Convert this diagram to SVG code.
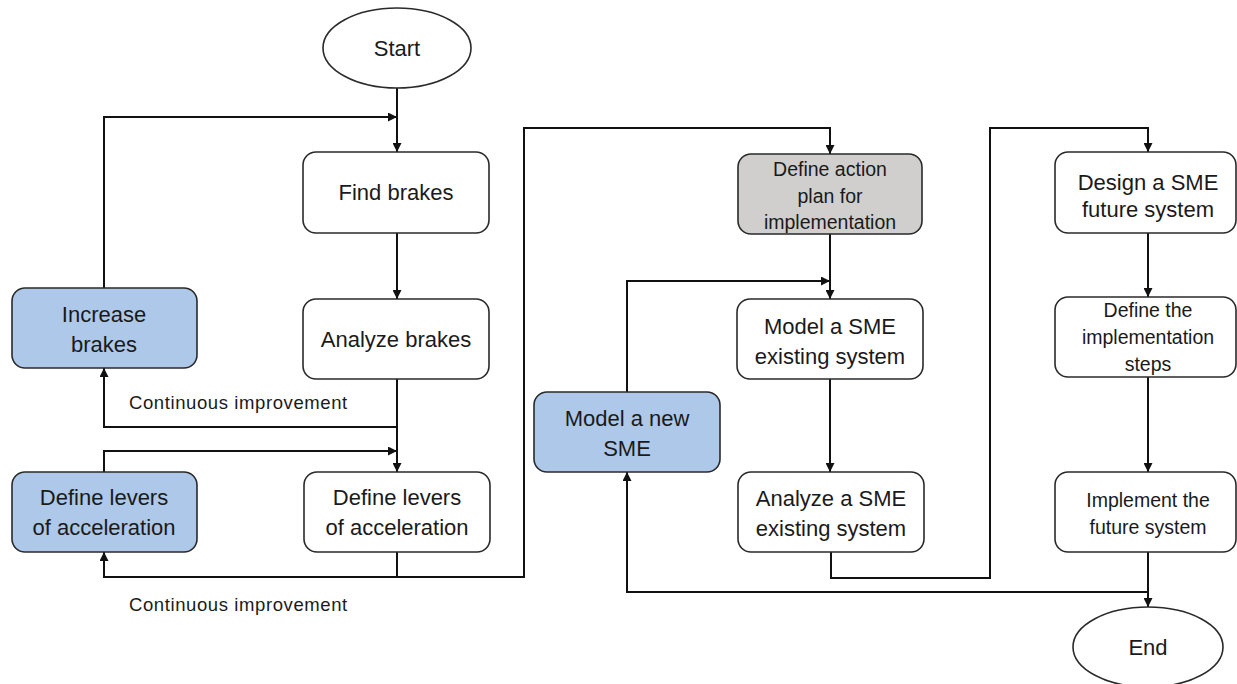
<svg xmlns="http://www.w3.org/2000/svg" width="1237" height="684" viewBox="0 0 1237 684">
<defs>
<style>
.box{fill:#ffffff;stroke:#2a2a2a;stroke-width:1.6}
.blue{fill:#adc8e8}
.gray{fill:#d0cfcd}
.t{font-family:"Liberation Sans",Arial,sans-serif;font-size:22px;fill:#1a1a1a;text-anchor:middle}
.s{font-size:19.5px}
.lbl{font-family:"Liberation Sans",Arial,sans-serif;font-size:18.5px;letter-spacing:0.6px;fill:#1a1a1a}
.c{fill:none;stroke:#111;stroke-width:2}
</style>
<marker id="ar" viewBox="0 0 10 10" refX="10" refY="5" markerWidth="9" markerHeight="9" markerUnits="userSpaceOnUse" orient="auto">
<path d="M0,0 L10,5 L0,10 z" fill="#111"/>
</marker>
</defs>
<rect width="1237" height="684" fill="#ffffff"/>
<g id="connectors">
<path class="c" d="M397,88 V152" marker-end="url(#ar)"/>
<path class="c" d="M104,288 V117 H397" marker-end="url(#ar)"/>
<path class="c" d="M397,233 V299" marker-end="url(#ar)"/>
<path class="c" d="M397,379 V472" marker-end="url(#ar)"/>
<path class="c" d="M397,427 H104 V368" marker-end="url(#ar)"/>
<path class="c" d="M104,472 V451 H397" marker-end="url(#ar)"/>
<path class="c" d="M397,552 V577 H104 V552" marker-end="url(#ar)"/>
<path class="c" d="M397,577 H524 V128 H830 V154" marker-end="url(#ar)"/>
<path class="c" d="M830,234 V299" marker-end="url(#ar)"/>
<path class="c" d="M627,392 V281 H830" marker-end="url(#ar)"/>
<path class="c" d="M830,379 V472" marker-end="url(#ar)"/>
<path class="c" d="M831,552 V578 H990 V128 H1148 V152" marker-end="url(#ar)"/>
<path class="c" d="M1148,233 V297" marker-end="url(#ar)"/>
<path class="c" d="M1148,377 V472" marker-end="url(#ar)"/>
<path class="c" d="M1148,552 V607" marker-end="url(#ar)"/>
<path class="c" d="M1148,592 H627 V472" marker-end="url(#ar)"/>
<text class="lbl" x="129" y="409">Continuous improvement</text>
<text class="lbl" x="129" y="611">Continuous improvement</text>
</g>
<g id="start">
<ellipse class="box" cx="397" cy="48" rx="74" ry="40"/>
<text class="t" x="397" y="56">Start</text>
</g>
<g id="find-brakes">
<rect class="box" x="303" y="152" width="186" height="81" rx="13"/>
<text class="t" x="396" y="200">Find brakes</text>
</g>
<g id="analyze-brakes">
<rect class="box" x="303" y="299" width="186" height="80" rx="13"/>
<text class="t" x="396" y="347">Analyze brakes</text>
</g>
<g id="increase-brakes">
<rect class="box blue" x="12" y="288" width="185" height="80" rx="13"/>
<text class="t" x="104" y="322">Increase</text>
<text class="t" x="104" y="352">brakes</text>
</g>
<g id="define-levers-blue">
<rect class="box blue" x="12" y="472" width="185" height="80" rx="13"/>
<text class="t" x="104" y="505">Define levers</text>
<text class="t" x="104" y="535">of acceleration</text>
</g>
<g id="define-levers">
<rect class="box" x="304" y="472" width="186" height="80" rx="13"/>
<text class="t" x="397" y="505">Define levers</text>
<text class="t" x="397" y="535">of acceleration</text>
</g>
<g id="action-plan">
<rect class="box gray" x="738" y="154" width="184" height="80" rx="13"/>
<text class="t s" x="830" y="176">Define action</text>
<text class="t s" x="830" y="203">plan for</text>
<text class="t s" x="830" y="229">implementation</text>
</g>
<g id="model-existing">
<rect class="box" x="737" y="299" width="186" height="80" rx="13"/>
<text class="t" x="830" y="334">Model a SME</text>
<text class="t" x="830" y="364">existing system</text>
</g>
<g id="model-new">
<rect class="box blue" x="534" y="392" width="186" height="80" rx="13"/>
<text class="t" x="627" y="426">Model a new</text>
<text class="t" x="627" y="456">SME</text>
</g>
<g id="analyze-sme">
<rect class="box" x="738" y="472" width="186" height="80" rx="13"/>
<text class="t" x="831" y="506">Analyze a SME</text>
<text class="t" x="831" y="536">existing system</text>
</g>
<g id="design-future">
<rect class="box" x="1055" y="152" width="181" height="81" rx="13"/>
<text class="t" x="1148" y="190">Design a SME</text>
<text class="t" x="1148" y="217">future system</text>
</g>
<g id="define-steps">
<rect class="box" x="1055" y="297" width="181" height="80" rx="13"/>
<text class="t s" x="1148" y="317">Define the</text>
<text class="t s" x="1148" y="344">implementation</text>
<text class="t s" x="1148" y="371">steps</text>
</g>
<g id="implement">
<rect class="box" x="1055" y="472" width="181" height="80" rx="13"/>
<text class="t s" x="1148" y="507">Implement the</text>
<text class="t s" x="1148" y="534">future system</text>
</g>
<g id="end">
<ellipse class="box" cx="1148" cy="647" rx="75" ry="40"/>
<text class="t" x="1148" y="655">End</text>
</g>
</svg>
